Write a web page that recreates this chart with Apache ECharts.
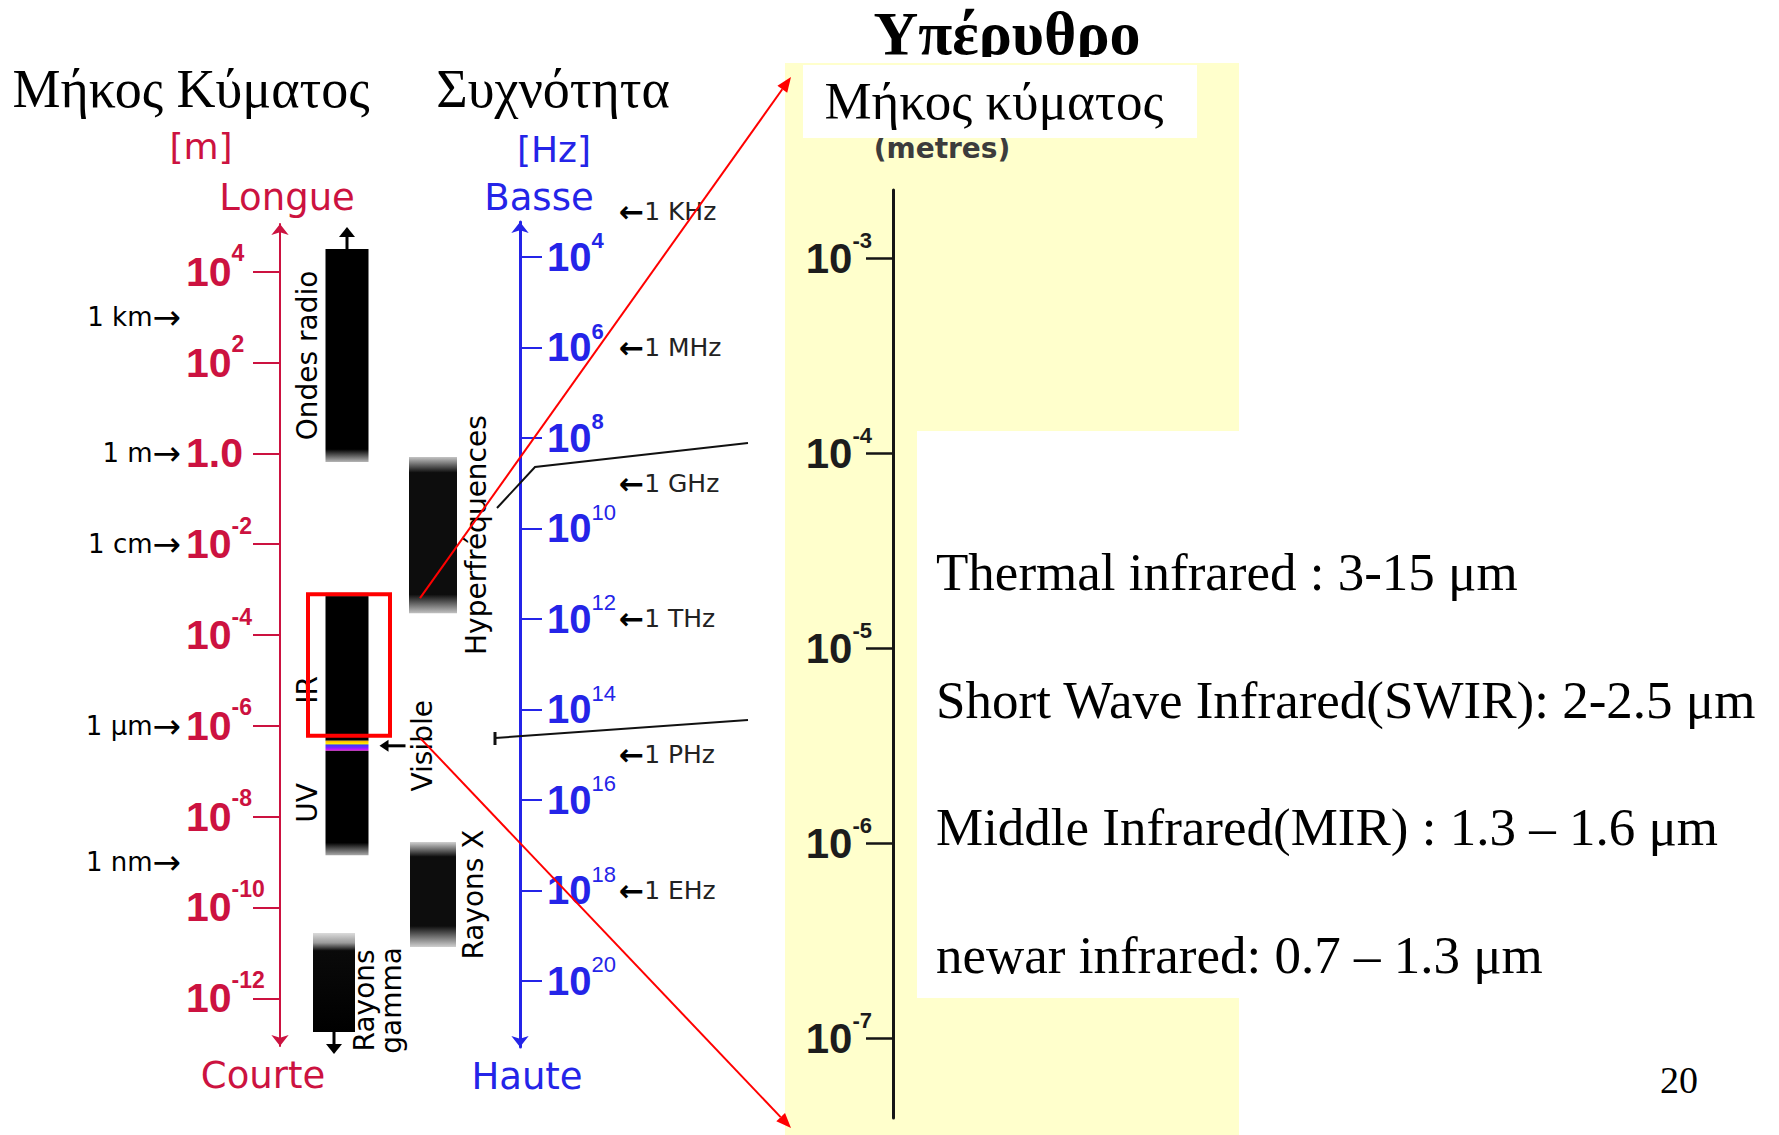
<!DOCTYPE html>
<html lang="el">
<head>
<meta charset="utf-8">
<title>Ηλεκτρομαγνητικό φάσμα – Υπέρυθρο</title>
<script src="https://cdn.jsdelivr.net/npm/echarts@6.0.0/dist/echarts.min.js"></script>
<style>
  html, body { margin: 0; padding: 0; background: #ffffff; }
  #chart { width: 1779px; height: 1135px; }
</style>
</head>
<body>
<div id="chart"></div>
<script>
// Spectral bands, as log10 of the wavelength in metres
const bandNames   = ['Ondes radio', 'Hyperfréquences', 'IR', 'Visible', 'UV', 'Rayons X', 'Rayons gamma'];
const bandColumns = ['ondes', 'hyper', 'ondes', 'ondes', 'ondes', 'hyper', 'ondes'];
const bandLogLow  = [-0.19, -3.52, -6.33, -6.55, -8.85, -10.87, -12.74];
const bandLogHigh = [4.5, -0.08, -3.07, -6.33, -6.55, -8.56, -10.56];

// infrared window framed on the main scale and enlarged on the right
const zoomLogRange = [-6.22, -3.1];

// wavelength scale (log10 m)
const wavelengthTicks = [4, 2, 0, -2, -4, -6, -8, -10, -12];
const wavelengthNotes = ['1 km', '1 m', '1 cm', '1 μm', '1 nm'];
const wavelengthNoteLogs = [3, 0, -2, -6, -9];

// frequency scale (log10 Hz)
const frequencyTicks = [4, 6, 8, 10, 12, 14, 16, 18, 20];
const frequencyNotes = ['1 KHz', '1 MHz', '1 GHz', '1 THz', '1 PHz', '1 EHz'];
const frequencyNoteLogs = [3, 6, 9, 12, 15, 18];

// enlarged infrared scale (log10 m)
const infraredTicks = [-3, -4, -5, -6, -7];
const infraredNotes = [
  'Thermal infrared : 3-15 μm',
  'Short Wave Infrared(SWIR): 2-2.5 μm',
  'Middle Infrared(MIR) : 1.3 – 1.6 μm',
  'newar infrared: 0.7 – 1.3 μm'
];

// ---------- styling ----------
const RED = '#cc1240';
const BLUE = '#2424e8';
const INK = '#151515';
const PIX = "'DejaVu Sans', sans-serif";
const BOLD = "'Liberation Sans', Arial, sans-serif";
const SERIF = "'Liberation Serif', 'Times New Roman', serif";

const grad = stops => new echarts.graphic.LinearGradient(0, 0, 0, 1,
  stops.map(([offset, color]) => ({ offset, color })));

const BAND_STYLE = {
  'Ondes radio':     { width: 43, stops: [[0, '#000'], [0.94, '#000'], [1, '#b5b5b5']], ldx: -40, cap: 'up' },
  'Hyperfréquences': { width: 48, stops: [[0, '#c4c4c4'], [0.1, '#0d0d0d'], [0.88, '#0d0d0d'], [1, '#c0c0c0']], ldx: 43 },
  'IR':              { width: 43, stops: [[0, '#8a8a8a'], [0.03, '#000'], [1, '#000']], ldx: -40, ldy: 23 },
  'Visible':         { width: 43, stops: [[0, '#ffb000'], [0.3, '#fff000'], [0.42, '#3a3aff'], [0.7, '#8020ff'], [1, '#ff10f0']], ldx: 75, pointer: true },
  'UV':              { width: 43, stops: [[0, '#000'], [0.88, '#000'], [1, '#a8a8a8']], ldx: -40 },
  'Rayons X':        { width: 46, stops: [[0, '#cfcfcf'], [0.14, '#0d0d0d'], [0.8, '#0d0d0d'], [1, '#cfcfcf']], ldx: 40 },
  'Rayons gamma':    { width: 42, dx: -13, stops: [[0, '#dcdcdc'], [0.1, '#9a9a9a'], [0.18, '#0a0a0a'], [1, '#000']], ldx: 44, ldy: 18, text: 'Rayons\ngamma', cap: 'down' }
};

// "10" with a raised exponent; two-digit exponents use a lighter weight
function powerRich(color, base, sup, baseLineHeight) {
  return {
    b: { fontSize: base, fontWeight: 'bold', fontFamily: BOLD, color, lineHeight: baseLineHeight },
    s: { fontSize: sup, fontWeight: 'bold', fontFamily: BOLD, color, lineHeight: sup, verticalAlign: 'top' },
    n: { fontSize: sup, fontWeight: 'normal', fontFamily: BOLD, color, lineHeight: sup, verticalAlign: 'top' }
  };
}
const powerText = e => (e === 0 ? '{b|1.0}' : '{b|10}{s|' + e + '}');
const powerTextLight = e => '{b|10}{' + (Math.abs(e) >= 10 ? 'n' : 's') + '|' + e + '}';

function renderBand(params, api) {
  const name = bandNames[params.dataIndex];
  const st = BAND_STYLE[name];
  const hi = api.coord([api.value(0), api.value(2)]);
  const lo = api.coord([api.value(0), api.value(1)]);
  const cx = hi[0] + (st.dx || 0);
  const top = hi[1], bottom = lo[1], w = st.width;
  const children = [{
    type: 'rect',
    shape: { x: cx - w / 2, y: top, width: w, height: bottom - top },
    style: { fill: grad(st.stops) }
  }];
  children.push({
    type: 'text',
    x: cx + st.ldx,
    y: (top + bottom) / 2 + (st.ldy || 0),
    rotation: Math.PI / 2,
    style: {
      text: st.text || name, fill: '#000', fontSize: 28, fontFamily: PIX,
      align: 'center', verticalAlign: 'middle', lineHeight: 27
    }
  });
  if (st.cap === 'up') {
    children.push(
      { type: 'line', shape: { x1: cx, y1: top, x2: cx, y2: top - 16 }, style: { stroke: '#000', lineWidth: 3 } },
      { type: 'polygon', shape: { points: [[cx, top - 22], [cx - 8, top - 12], [cx + 8, top - 12]] }, style: { fill: '#000' } }
    );
  }
  if (st.cap === 'down') {
    children.push(
      { type: 'line', shape: { x1: cx, y1: bottom, x2: cx, y2: bottom + 16 }, style: { stroke: '#000', lineWidth: 3 } },
      { type: 'polygon', shape: { points: [[cx, bottom + 22], [cx - 8, bottom + 12], [cx + 8, bottom + 12]] }, style: { fill: '#000' } }
    );
  }
  if (st.pointer) {
    const y = (top + bottom) / 2;
    const x0 = cx + w / 2 + 11;
    children.push(
      { type: 'line', shape: { x1: x0 + 7, y1: y, x2: x0 + 26, y2: y }, style: { stroke: '#000', lineWidth: 3 } },
      { type: 'polygon', shape: { points: [[x0, y], [x0 + 9, y - 6], [x0 + 9, y + 6]] }, style: { fill: '#000' } }
    );
  }
  return { type: 'group', children };
}

function renderZoomFrame(params, api) {
  const hi = api.coord([api.value(0), api.value(2)]);
  const lo = api.coord([api.value(0), api.value(1)]);
  return {
    type: 'rect',
    shape: { x: hi[0] - 39, y: hi[1], width: 82, height: lo[1] - hi[1] },
    style: { fill: 'none', stroke: '#ff0000', lineWidth: 4 }
  };
}

// ---------- page decorations ----------
function txt(id, text, x, y, style, z) {
  return { type: 'text', id, x, y, z: z == null ? 10 : z,
    style: Object.assign({ text, align: 'center', verticalAlign: 'middle', fill: '#000' }, style) };
}
function rect(id, x, y, w, h, fill, z) {
  return { type: 'rect', id, z, shape: { x, y, width: w, height: h }, style: { fill } };
}

const PANEL = { x: 785, y: 63, w: 454, h: 1072 };
const NOTES_BOX = { x: 917, y: 431, w: 862, h: 567 };

const graphics = [
  txt('t-len', 'Μήκος Κύματος', 191, 89, { fontSize: 54, fontFamily: SERIF }),
  txt('t-frq', 'Συχνότητα', 553, 89, { fontSize: 54, fontFamily: SERIF }),
  txt('u-m', '[m]', 201, 146, { fontSize: 36, fontFamily: PIX, fill: RED }),
  txt('u-hz', '[Hz]', 554, 149, { fontSize: 36, fontFamily: PIX, fill: BLUE }),
  txt('e-long', 'Longue', 287, 197, { fontSize: 37, fontFamily: PIX, fill: RED }),
  txt('e-short', 'Courte', 263, 1075, { fontSize: 37, fontFamily: PIX, fill: RED }),
  txt('e-low', 'Basse', 539, 197, { fontSize: 37, fontFamily: PIX, fill: BLUE }),
  txt('e-high', 'Haute', 527, 1076, { fontSize: 37, fontFamily: PIX, fill: BLUE }),
  txt('t-ir', 'Υπέρυθρο', 1007, 33, { fontSize: 62, fontFamily: SERIF, fontWeight: 'bold' }, 1),
  rect('cut', 850, 57, 330, 8, '#ffffff', 2),
  rect('panel', PANEL.x, PANEL.y, PANEL.w, PANEL.h, '#ffffcc', 2),
  txt('p-unit', '(metres)', 942, 148, { fontSize: 28, fontFamily: PIX, fontWeight: 'bold', fill: '#3c3c3c' }, 3),
  rect('p-head', 803, 65, 394, 73, '#ffffff', 4),
  txt('p-title', 'Μήκος κύματος', 994, 101, { fontSize: 53, fontFamily: SERIF }, 5),
  rect('notes-box', NOTES_BOX.x, NOTES_BOX.y, NOTES_BOX.w, NOTES_BOX.h, '#ffffff', 4),
  txt('page', '20', 1679, 1080, { fontSize: 38, fontFamily: SERIF }, 5)
].concat(infraredNotes.map((line, i) =>
  txt('note-' + i, line, 936, 572 + i * 127.5, { fontSize: 53, fontFamily: SERIF, align: 'left' }, 5)));

// ---------- chart ----------
const chart = echarts.init(document.getElementById('chart'), null, { renderer: 'svg', width: 1779, height: 1135 });

const option = {
  backgroundColor: '#ffffff',
  animation: false,
  grid: [
    { left: 304, top: 224, width: 172, bottom: 89, outerBoundsMode: 'none' },
    { left: 520, top: 222, width: 240, bottom: 88, outerBoundsMode: 'none' },
    { left: 520, top: 222 - (3.23 - 2.5) * (825 / 18.23), width: 240, bottom: 88, outerBoundsMode: 'none' },
    { left: 893, top: 190, width: 10, bottom: 17, outerBoundsMode: 'none' }
  ],
  xAxis: [
    { gridIndex: 0, type: 'category', data: ['ondes', 'hyper'], show: false },
    { gridIndex: 1, type: 'value', min: 0, max: 1, show: false },
    { gridIndex: 2, type: 'value', min: 0, max: 1, show: false },
    { gridIndex: 3, type: 'value', min: 0, max: 1, show: false }
  ],
  yAxis: [
    { // wavelength scale
      gridIndex: 0, type: 'value', position: 'left', offset: 24, min: -13.05, max: 5.05,
      splitLine: { show: false },
      axisLine: { show: true, symbol: ['arrow', 'arrow'], symbolSize: [13, 11], lineStyle: { color: RED, width: 2 } },
      axisTick: { show: true, length: 27, customValues: wavelengthTicks, lineStyle: { color: RED, width: 2 } },
      axisLabel: { customValues: wavelengthTicks, margin: 94, align: 'left', formatter: powerText,
        rich: powerRich(RED, 41, 23, 60) }
    },
    { // named wavelengths
      gridIndex: 0, type: 'value', position: 'left', offset: 24, min: -13.05, max: 5.05,
      splitLine: { show: false }, axisLine: { show: false }, axisTick: { show: false },
      axisLabel: { customValues: wavelengthNoteLogs, margin: 99, align: 'right',
        formatter: v => '{t|' + wavelengthNotes[wavelengthNoteLogs.indexOf(v)] + '}{a|→}',
        rich: { t: { fontSize: 26, fontFamily: PIX, color: '#000' },
                a: { fontSize: 34, fontFamily: PIX, color: '#000' } } }
    },
    { // frequency scale
      gridIndex: 1, type: 'value', position: 'left', inverse: true, min: 3.23, max: 21.46,
      splitLine: { show: false },
      axisLine: { show: true, symbol: ['arrow', 'arrow'], symbolSize: [13, 11], lineStyle: { color: BLUE, width: 3 } },
      axisTick: { show: true, inside: true, length: 22, customValues: frequencyTicks, lineStyle: { color: BLUE, width: 2 } },
      axisLabel: { customValues: frequencyTicks, inside: true, margin: 27, align: 'left', formatter: powerTextLight,
        rich: powerRich(BLUE, 40, 22, 54) }
    },
    { // named frequencies
      gridIndex: 2, type: 'value', position: 'left', inverse: true, min: 2.5, max: 21.46,
      splitLine: { show: false }, axisLine: { show: false }, axisTick: { show: false },
      axisLabel: { customValues: frequencyNoteLogs, inside: true, margin: 99, align: 'left',
        formatter: v => '{a|←}{t|' + frequencyNotes[frequencyNoteLogs.indexOf(v)] + '}',
        rich: { t: { fontSize: 25, fontFamily: PIX, color: '#222' },
                a: { fontSize: 30, fontFamily: PIX, fontWeight: 'bold', color: '#000' } } }
    },
    { // enlarged infrared scale
      gridIndex: 3, type: 'value', position: 'left', min: -7.41, max: -2.65, z: 10,
      splitLine: { show: false },
      axisLine: { show: true, lineStyle: { color: INK, width: 3 } },
      axisTick: { show: true, length: 27, customValues: infraredTicks, lineStyle: { color: INK, width: 2.5 } },
      axisLabel: { customValues: infraredTicks, margin: 21, align: 'right', formatter: powerText,
        rich: powerRich('#1c1c1c', 42, 22, 58) }
    }
  ],
  series: [
    {
      type: 'custom', name: 'bands', xAxisIndex: 0, yAxisIndex: 0, z: 3,
      encode: { x: 0, y: [1, 2] },
      data: bandNames.map((n, i) => [bandColumns[i], bandLogLow[i], bandLogHigh[i]]),
      renderItem: renderBand
    },
    {
      type: 'custom', name: 'zoom', xAxisIndex: 0, yAxisIndex: 0, z: 4,
      encode: { x: 0, y: [1, 2] },
      data: [['ondes', zoomLogRange[0], zoomLogRange[1]]],
      renderItem: renderZoomFrame
    }
  ],
  graphic: graphics
};

chart.setOption(option);

// ---------- connectors from the framed window to the enlarged panel ----------
function arrowLine(id, from, to, color, width, head) {
  const ang = Math.atan2(to[1] - from[1], to[0] - from[0]);
  const bx = to[0] - head * Math.cos(ang), by = to[1] - head * Math.sin(ang);
  const px = -Math.sin(ang) * head * 0.4, py = Math.cos(ang) * head * 0.4;
  return [
    { type: 'line', id: id + '-l', z: 20, shape: { x1: from[0], y1: from[1], x2: bx, y2: by }, style: { stroke: color, lineWidth: width } },
    { type: 'polygon', id: id + '-h', z: 20, shape: { points: [to, [bx + px, by + py], [bx - px, by - py]] }, style: { fill: color } }
  ];
}

const frameTop = chart.convertToPixel({ gridIndex: 0 }, ['ondes', zoomLogRange[1]]);
const frameBottom = chart.convertToPixel({ gridIndex: 0 }, ['ondes', zoomLogRange[0]]);
const frameRight = frameTop[0] + 43;

const connectors = []
  .concat(arrowLine('zoom-up', [frameRight + 30, frameTop[1] + 4], [PANEL.x + 6, PANEL.y + 14], '#ff0000', 2, 15))
  .concat(arrowLine('zoom-down', [frameRight + 30, frameBottom[1] + 2], [PANEL.x + 6, PANEL.y + PANEL.h - 7], '#ff0000', 2, 15))
  .concat([
    { type: 'polyline', id: 'edge-a', z: 6, shape: { points: [[497, 508], [535, 467], [748, 443]] }, style: { stroke: '#111', lineWidth: 2, fill: 'none' } },
    { type: 'polyline', id: 'edge-b', z: 6, shape: { points: [[495, 738], [748, 720]] }, style: { stroke: '#111', lineWidth: 2, fill: 'none' } },
    { type: 'line', id: 'edge-b-cap', z: 6, shape: { x1: 495, y1: 732, x2: 495, y2: 745 }, style: { stroke: '#111', lineWidth: 3 } }
  ]);

chart.setOption({ graphic: graphics.concat(connectors) });
</script>
</body>
</html>
